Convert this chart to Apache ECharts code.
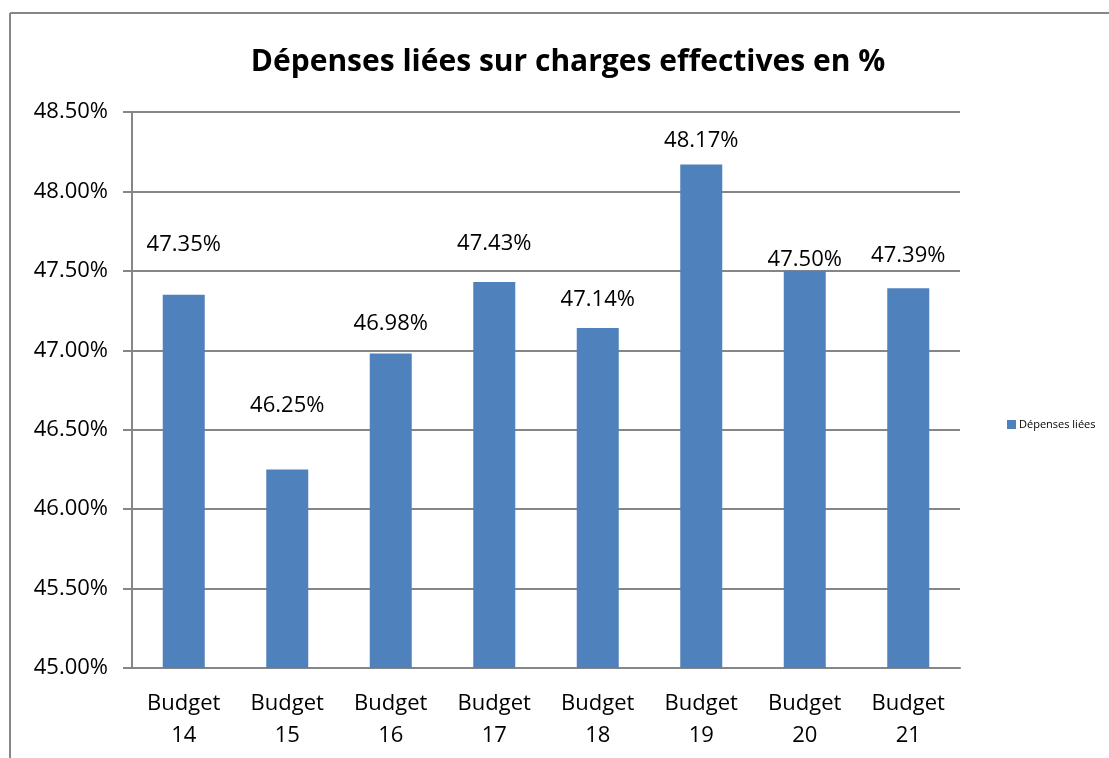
<!DOCTYPE html>
<html>
<head>
<meta charset="utf-8">
<script src="https://cdn.jsdelivr.net/npm/echarts@6/dist/echarts.min.js"></script>
<style>
  html, body { margin: 0; padding: 0; background: #fff; }
  #chart { width: 1109px; height: 758px; }
</style>
</head>
<body>
<div id="chart"></div>
<script>
const categories = ['Budget\n14', 'Budget\n15', 'Budget\n16', 'Budget\n17', 'Budget\n18', 'Budget\n19', 'Budget\n20', 'Budget\n21']
const depensesLiees = [47.35, 46.25, 46.98, 47.43, 47.14, 48.17, 47.50, 47.39]
const yMin = 45
const yMax = 48.5
const yStep = 0.5

// labels were moved by hand in the original, keep the gaps
const labelGaps = [39, 53, 19, 27, 17, 13, 0, 22]

const font = '"Open Sans", "Liberation Sans", sans-serif'
const chart = echarts.init(document.getElementById('chart'))

const option = {
  animation: false,
  backgroundColor: '#fff',
  title: {
    text: 'Dépenses liées sur charges effectives en %',
    left: 563,
    top: 42,
    textAlign: 'center',
    textStyle: { fontFamily: font, fontSize: 30, fontWeight: 'bold', color: '#000' }
  },
  legend: {
    data: ['Dépenses liées'],
    left: 1002,
    top: 414,
    itemWidth: 9,
    itemHeight: 9,
    itemGap: 3,
    icon: 'rect',
    textStyle: { fontFamily: font, fontSize: 11, color: '#000', padding: [0, 0, 0, -2] }
  },
  grid: { left: 132, right: 149, top: 112, bottom: 90 },
  xAxis: {
    type: 'category',
    data: categories,
    axisLine: { lineStyle: { color: '#868686', width: 2 } },
    axisTick: { length: 8, lineStyle: { color: '#868686', width: 2 } },
    axisLabel: { fontFamily: font, fontSize: 22, color: '#000', lineHeight: 32, margin: 20 }
  },
  yAxis: {
    type: 'value',
    min: yMin,
    max: yMax,
    interval: yStep,
    axisLine: { show: true, lineStyle: { color: '#868686', width: 2 } },
    axisTick: { show: true, length: 9, lineStyle: { color: '#868686', width: 2 } },
    splitLine: { lineStyle: { color: '#868686', width: 2 } },
    axisLabel: {
      fontFamily: font, fontSize: 22, color: '#000', margin: 24,
      formatter: v => v.toFixed(2) + '%'
    }
  },
  series: [{
    name: 'Dépenses liées',
    type: 'bar',
    barWidth: 42,
    itemStyle: { color: '#4f81bd' },
    data: depensesLiees.map((v, i) => ({
      value: v,
      label: { distance: labelGaps[i] }
    })),
    label: {
      show: true,
      position: 'top',
      fontFamily: font,
      fontSize: 22,
      color: '#000',
      formatter: p => p.value.toFixed(2) + '%'
    }
  }],
  graphic: [
    { type: 'line', shape: { x1: 10, y1: 13, x2: 10, y2: 758 }, style: { stroke: '#868686', lineWidth: 2 } },
    { type: 'line', shape: { x1: 10, y1: 13, x2: 1109, y2: 13 }, style: { stroke: '#868686', lineWidth: 2 } }
  ]
}

chart.setOption(option)
</script>
</body>
</html>
